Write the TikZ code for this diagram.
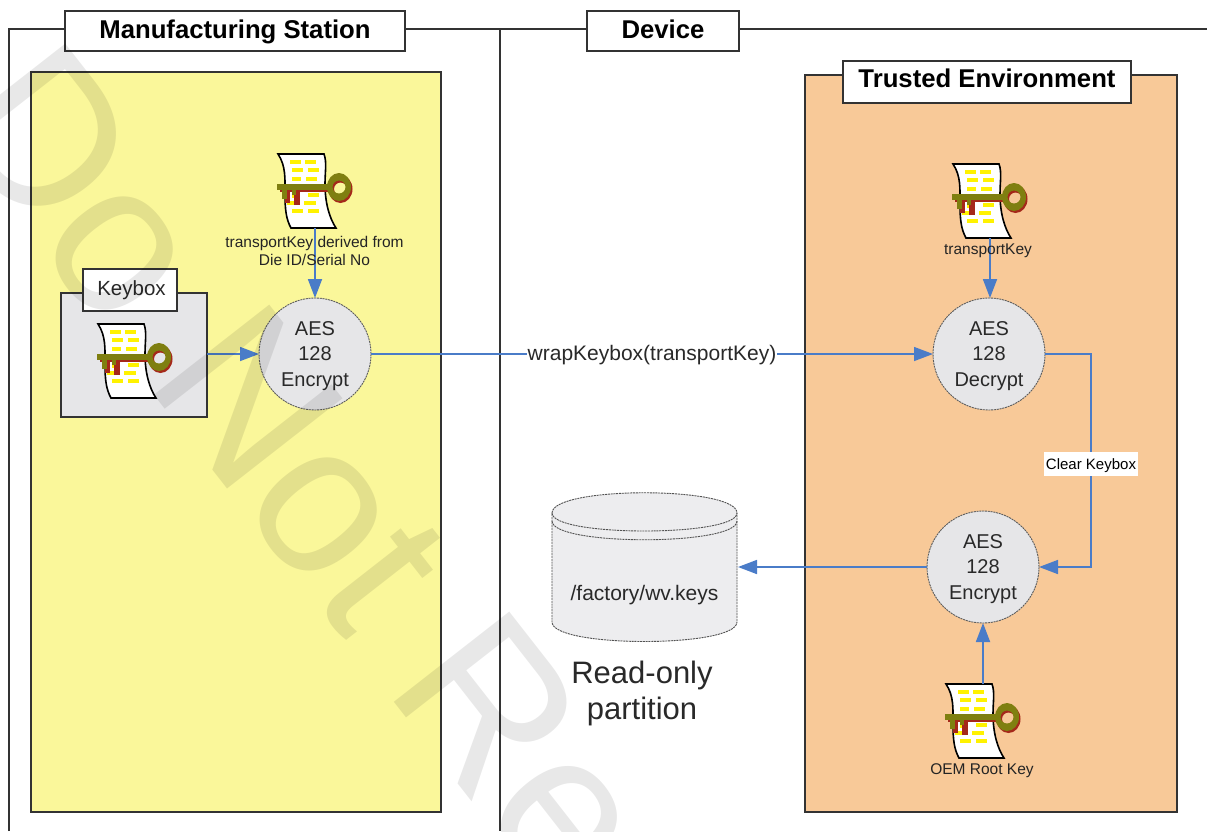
\documentclass[tikz,border=0pt]{standalone}
\usepackage{fontspec}
\setmainfont{Liberation Sans}
\usetikzlibrary{arrows.meta}
\definecolor{yel}{HTML}{FAF79A}
\definecolor{ora}{HTML}{F8C998}
\definecolor{gre}{HTML}{E6E6E8}
\definecolor{blu}{HTML}{4A7CC8}
\definecolor{lin}{HTML}{333333}
\definecolor{olv}{HTML}{7F7F10}
\definecolor{dred}{HTML}{A5281A}
\newcommand{\fs}[1]{\fontsize{#1}{#1}\selectfont}
\newcommand{\aesop}[1]{\rule{0pt}{18pt}AES\\[5.5pt]128\\[5.5pt]#1}
\tikzset{
  x=1pt,y=-1pt,
  boxed/.style={draw=lin,line width=1.6pt,inner sep=0pt,outer sep=0pt},
  titlebox/.style={boxed,fill=white,align=center,text=black,font=\fs{25.7}\bfseries,anchor=center,text height=16pt,text depth=2pt},
  roundop/.style={circle,draw=lin!80!white,line width=0.9pt,dash pattern=on 2pt off 0.8pt,fill=gre,minimum size=112pt,inner sep=0pt,outer sep=0pt,align=center,text=lin!80!black,font=\fs{20}},
  iconbox/.style={minimum width=74pt,minimum height=74pt,inner sep=0pt,outer sep=0pt},
  arr/.style={draw=blu,line width=1.8pt,-{Triangle[length=19pt,width=14pt]}},
  thin arr/.style={draw=blu,line width=1.3pt},
  small/.style={font=\fs{15.5},text=lin!70!black,align=center,inner sep=0pt},
  pics/keyicon/.style={code={
    \draw[fill=white,draw=black,line width=1.6pt]
      (0,0) -- (46,0) .. controls (49,8) and (47,18) .. (47,30)
      .. controls (47,50) and (52,65) .. (58,74) -- (13,74)
      .. controls (8,65) and (7,55) .. (7,40)
      .. controls (7,25) and (8,12) .. (0,0) -- cycle;
    \foreach \xa/\xb/\yy in {12/23/8,27/38/8,14/25/16,30/41/16,14/23/25,28/39/25,14/20/42,30/41/41,9/18/49,26/38/49,14/25/57,30/41/57}
      \draw[yellow,line width=3.6pt] (\xa,\yy) -- (\xb,\yy);
    \begin{scope}[shift={(1.5,2)}]
      \fill[dred] (0,30) rectangle (52,36);
      \fill[dred,even odd rule] (61,33) ellipse[x radius=12,y radius=14] (61,33) circle[radius=6.5];
      \fill[dred] (5,35) rectangle (10,47);
      \fill[dred] (14,35) rectangle (20,49);
    \end{scope}
    \fill[olv] (-1,30) rectangle (52,36);
    \fill[olv,even odd rule] (61,33) ellipse[x radius=12,y radius=14] (61,33) circle[radius=6.5];
    \fill[olv] (4,35) rectangle (9,45);
    \fill[olv] (14,35) rectangle (18,41);
  }}
}
\begin{document}
\begin{tikzpicture}
\useasboundingbox (0,0) rectangle (1207,831);
\fill[white] (0,0) rectangle (1207,831);
% outer frame
\coordinate (fl) at (9,831);
\coordinate (fm) at (500,831);
\coordinate (ftl) at (9,29);
\coordinate (ftm) at (500,29);
\coordinate (ftr) at (1207,29);
\draw[lin,line width=1.6pt] (fl) -- (ftl) -- (ftr);
\draw[lin,line width=1.6pt] (ftm) -- (fm);
\node[titlebox,minimum width=340pt,minimum height=40pt] (ms) at (235,31) {Manufacturing Station};
\node[titlebox,minimum width=152pt,minimum height=40pt] (dev) at (663,31) {Device};
% panels
\node[boxed,fill=yel,minimum width=410pt,minimum height=740pt] (ypanel) at (236,442) {};
\node[boxed,fill=ora,minimum width=372pt,minimum height=737pt] (opanel) at (991,443.5) {};
\node[titlebox,minimum width=288pt,minimum height=42pt,text height=14pt,text depth=4pt] (te) at (987,82) {Trusted Environment};
% keybox
\node[boxed,fill=gre,minimum width=146pt,minimum height=124pt] (kb) at (134,355) {};
\node[boxed,fill=white,minimum width=94pt,minimum height=42pt,font=\fs{20.5},text=lin!80!black] (kbt) at (130,290) {\hspace*{3pt}Keybox};
% icons
\node[iconbox] (k1) at (315,191) {};
\node[iconbox] (k2) at (135,361) {};
\node[iconbox] (k3) at (990,201) {};
\node[iconbox] (k4) at (983,721) {};
\pic at (k1.north west) {keyicon};
\pic at (k2.north west) {keyicon};
\pic at (k3.north west) {keyicon};
\pic at (k4.north west) {keyicon};
% operations
\node[roundop] (enc1) at (315,354) {\aesop{Encrypt}};
\node[roundop] (dec) at (989,354) {\aesop{Decrypt}};
\node[roundop] (enc2) at (983,567) {\aesop{Encrypt}};
% storage
\coordinate (cylL) at (552,513);
\coordinate (cylR) at (737,513);
\coordinate (cylLb) at (552,622);
\coordinate (cylRb) at (737,622);
\draw[lin!85!white,line width=0.9pt,dash pattern=on 2pt off 0.8pt,fill=gre!70!white]
  (cylL) .. controls (552,486) and (737,486) .. (cylR)
  -- (cylRb) .. controls (737,648) and (552,648) .. (cylLb) -- cycle;
\draw[lin!85!white,line width=0.9pt,dash pattern=on 2pt off 0.8pt]
  (cylL) .. controls (552,537) and (737,537) .. (cylR);
\draw[lin!85!white,line width=0.9pt,dash pattern=on 2pt off 0.8pt]
  (552,521) .. controls (552,546) and (737,546) .. (737,521);
\node[inner sep=0pt] (cyl) at (644.5,595) {\fs{21}\color{lin!80!black}/factory/wv.keys};
\coordinate (cylE) at (738,567);
\node[inner sep=0pt,align=center,font=\fs{31},text=lin!80!black] (ro) at (642,693) {Read-only\\[5pt]partition};
% connectors
\draw[arr] (k1.south) -- (enc1.north);
\draw[arr] (k3.south) -- (dec.north -| k3.south);
\draw[arr] (k4.north) -- (enc2.south);
\draw[arr,line width=1.4pt] (kb.east |- enc1.west) -- (enc1.west);
\node[fill=white,inner sep=0pt,outer sep=1pt,font=\fs{21},text=lin!80!black] (wrap) at (652,355) {wrapKeybox(transportKey)};
\draw[thin arr] (enc1.east) -- (wrap.west |- enc1.east);
\draw[arr,line width=1.4pt] (wrap.east |- dec.west) -- (dec.west);
\coordinate (bendA) at (1091,354);
\coordinate (bendB) at (1091,567);
\draw[arr,line width=1.6pt] (dec.east) -- (bendA) -- (bendB) -- (enc2.east);
\node[fill=white,inner sep=0pt,minimum width=94pt,minimum height=24pt,font=\fs{15},text=black,text height=11pt,text depth=0pt] (clr) at (1091,464) {Clear Keybox};
\draw[arr,line width=1.6pt] (enc2.west) -- (cylE);
% labels
\node[small] (l1) at (314.5,251) {transportKey derived from\\[2pt]Die ID/Serial No};
\node[small] (l3) at (988,251) {transportKey};
\node[small] (l4) at (982,771) {OEM Root Key};
% watermark
\begin{scope}
\clip (0,0) rectangle (1207,831);
\node[rotate=-52,anchor=base west,inner sep=0pt,text=black,text opacity=0.09,font=\fs{213}] (wm) at (-61,120) {Do Not Re};
\end{scope}
\end{tikzpicture}
\end{document}
